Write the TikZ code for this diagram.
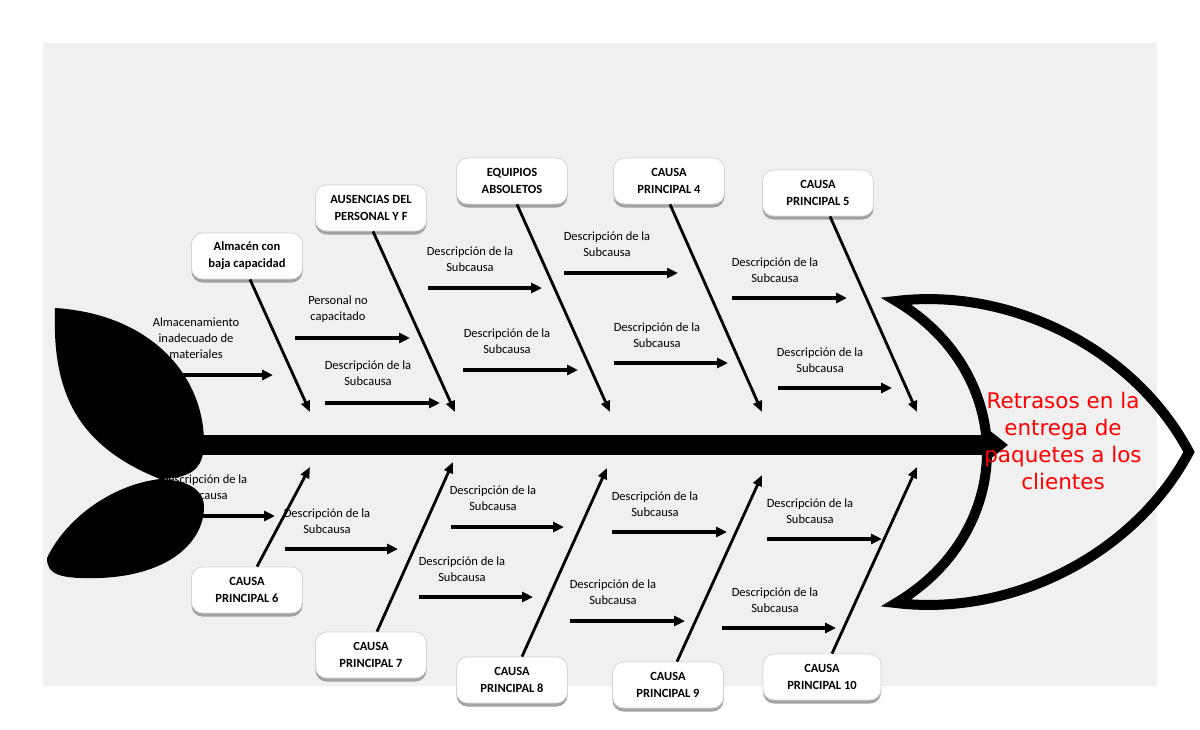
\documentclass[tikz,border=0pt]{standalone}
\usepackage{fontspec}
\setmainfont{Carlito}
\newfontfamily\headfont{DejaVu Sans}
\usetikzlibrary{arrows.meta,shadows,calc}
\definecolor{bg}{HTML}{F0F0F0}
\definecolor{boxline}{HTML}{D4D4D4}
\definecolor{redtext}{HTML}{FF0000}
\begin{document}
\begin{tikzpicture}[x=1pt,y=-1pt,
  subtext/.style={font=\fontsize{12.5}{16}\selectfont, align=center, inner sep=0pt},
  causebox/.style={rounded corners=11pt, fill=white, draw=boxline, line width=0.8pt,
    minimum width=111pt, minimum height=46pt, align=center, inner sep=2pt,
    font=\bfseries\fontsize{12.5}{17}\selectfont,
    drop shadow={shadow xshift=0pt, shadow yshift=-3.5pt, fill=black!40, opacity=0.9}},
  subarrow/.style={line width=3.6pt, -{Triangle[length=11pt,width=10pt]}},
  bonearrow/.style={line width=2.8pt, -{Triangle[length=11pt,width=9pt]}},
  leaf/.style={fill=black},
  headline/.style={line width=10pt, line join=miter, miter limit=20}
]
\useasboundingbox (0,0) rectangle (1200,729);
\fill[white] (0,0) rectangle (1200,729);
\fill[bg] (43,43) rectangle (1157,686);

% head outline
\draw[headline] (896,301) .. controls (1012,287) and (1135,350) .. (1189,452)
   .. controls (1135,554) and (1012,617) .. (896,603)
   .. controls (960,565) and (987,505) .. (987,452)
   .. controls (987,399) and (960,339) .. (896,301) -- cycle;

% spine
\fill (195,435) rectangle (991,455);
\fill (989,430) -- (1008,445) -- (989,460) -- cycle;

% head text
\node[font=\headfont\fontsize{21.5}{27}\selectfont, text=redtext, align=center, inner sep=0pt] (head) at (1063,441)
  {Retrasos en la\\entrega de\\paquetes a los\\clientes};

% sub-cause labels
\node[subtext] (T1) at (196,338) {Almacenamiento\\inadecuado de\\materiales};
\node[subtext] (T2) at (338,309) {Personal no\\capacitado};
\node[subtext] (T3) at (368,373) {Descripción de la\\Subcausa};
\node[subtext] (T4) at (470,259) {Descripción de la\\Subcausa};
\node[subtext] (T5) at (507,341) {Descripción de la\\Subcausa};
\node[subtext] (T6) at (607,244) {Descripción de la\\Subcausa};
\node[subtext] (T7) at (657,335) {Descripción de la\\Subcausa};
\node[subtext] (T8) at (775,270) {Descripción de la\\Subcausa};
\node[subtext] (T9) at (820,360) {Descripción de la\\Subcausa};
\node[subtext] (B1) at (204,487) {Descripción de la\\Subcausa};
\node[subtext] (B2) at (327,521) {Descripción de la\\Subcausa};
\node[subtext] (B3) at (493,498) {Descripción de la\\Subcausa};
\node[subtext] (B4) at (462,569) {Descripción de la\\Subcausa};
\node[subtext] (B5) at (655,504) {Descripción de la\\Subcausa};
\node[subtext] (B6) at (613,592) {Descripción de la\\Subcausa};
\node[subtext] (B7) at (810,511) {Descripción de la\\Subcausa};
\node[subtext] (B8) at (775,600) {Descripción de la\\Subcausa};

% sub-cause arrows
\foreach \n/\xa/\xb/\yy in {ta/175/273/375, tb/295/410/338, tc/325/440/403, td/428/542/288,
  te/463/578/370, tf/564/678/273, tg/614/728/363, th/732/847/298, ti/778/892/388,
  ba/175/275/516, bb/285/398/549, bc/451/564/527, bd/419/533/597, be/612/727/532,
  bf/570/685/621, bg/767/882/539, bh/722/836/628}{
  \coordinate (\n s) at (\xa,\yy);
  \coordinate (\n e) at (\xb,\yy);
  \draw[subarrow] (\n s) -- (\n e);
}

% cause boxes
\node[causebox] (b1) at (247,256) {Almacén con\\baja capacidad};
\node[causebox] (b2) at (371,208) {AUSENCIAS DEL\\PERSONAL Y F};
\node[causebox] (b3) at (512,181) {EQUIPIOS\\ABSOLETOS};
\node[causebox] (b4) at (669,181) {CAUSA\\PRINCIPAL 4};
\node[causebox] (b5) at (818,193) {CAUSA\\PRINCIPAL 5};
\node[causebox] (b6) at (247,590) {CAUSA\\PRINCIPAL 6};
\node[causebox] (b7) at (371,655) {CAUSA\\PRINCIPAL 7};
\node[causebox] (b8) at (512,680) {CAUSA\\PRINCIPAL 8};
\node[causebox] (b9) at (668,685) {CAUSA\\PRINCIPAL 9};
\node[causebox, minimum width=118pt] (b10) at (822,677) {CAUSA\\PRINCIPAL 10};

% bone tips on the spine
\coordinate (t1) at (310,412);
\coordinate (t2) at (455,412);
\coordinate (t3) at (610,412);
\coordinate (t4) at (762,412);
\coordinate (t5) at (917,412);
\coordinate (t6) at (310,467);
\coordinate (t7) at (453,462);
\coordinate (t8) at (607,468);
\coordinate (t9) at (762,475);
\coordinate (t10) at (917,467);

% bones
\draw[bonearrow] ([xshift=3pt]b1.south) -- (t1);
\draw[bonearrow] ([xshift=2pt]b2.south) -- (t2);
\draw[bonearrow] ([xshift=5pt]b3.south) -- (t3);
\draw[bonearrow] ([xshift=1pt]b4.south) -- (t4);
\draw[bonearrow] ([xshift=12pt]b5.south) -- (t5);
\draw[bonearrow] ([xshift=10pt]b6.north) -- (t6);
\draw[bonearrow] ([xshift=6pt]b7.north) -- (t7);
\draw[bonearrow] ([xshift=10pt]b8.north) -- (t8);
\draw[bonearrow] ([xshift=9pt]b9.north) -- (t9);
\draw[bonearrow] ([xshift=10pt]b10.north) -- (t10);

% tail leaves
\fill[leaf] (55,308) .. controls (150,314) and (205,375) .. (204,445)
   .. controls (203,470) and (190,478) .. (160,479)
   .. controls (75,445) and (52,390) .. (55,308) -- cycle;
\fill[leaf] (160,479) .. controls (110,485) and (65,520) .. (47,558)
   .. controls (47,575) and (60,579) .. (100,578)
   .. controls (172,575) and (204,540) .. (204,507)
   .. controls (204,490) and (188,480) .. (160,479) -- cycle;
\end{tikzpicture}
\end{document}
